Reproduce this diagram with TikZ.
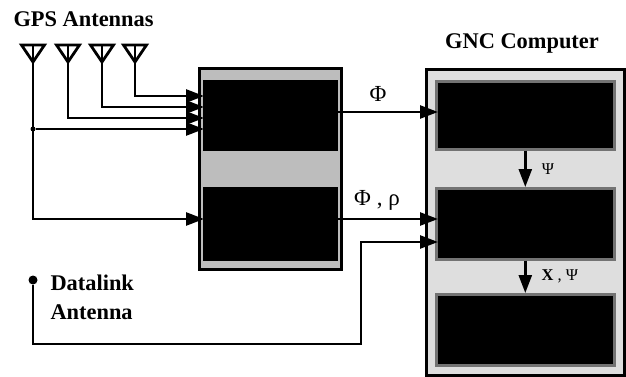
\documentclass[tikz,border=0pt]{standalone}
\usepackage{fontspec}
\setmainfont{Liberation Serif}
\usetikzlibrary{positioning,arrows.meta,shapes.geometric}
\definecolor{rcvgray}{gray}{0.74}
\definecolor{cpugray}{gray}{0.87}
\definecolor{edgegray}{gray}{0.45}
\begin{document}
\begin{tikzpicture}[
x=1pt, y=-1pt,
antenna/.style={draw, line width=2.8pt, line join=miter, isosceles triangle, isosceles triangle stretches=true, shape border rotate=270, minimum width=23pt, minimum height=17pt, inner sep=0pt, outer sep=0pt},
frame/.style={draw, line width=2.6pt, minimum width=#1, anchor=north west, inner sep=0pt},
frame/.default=142pt,
rcvbox/.style={fill=black, draw=rcvgray, line width=0.6pt, minimum width=136pt, anchor=north west, inner sep=0pt},
cpubox/.style={fill=black, draw=edgegray, line width=2.6pt, minimum width=178pt, anchor=north west, inner sep=0pt},
link/.style={line width=2.6pt},
arrow/.style={-{Triangle[length=18pt, width=13pt]}, line width=2.6pt},
dot/.style={circle, fill=black, inner sep=0pt, minimum size=#1},
title/.style={font=\fontsize{22.4}{24}\selectfont\bfseries},
signal/.style={font=\fontsize{23}{25}\selectfont},
smallsig/.style={font=\fontsize{16.5}{18}\selectfont}
]
\useasboundingbox (0,0) rectangle (626,377);
% receiver and computer frames
\node[frame, fill=rcvgray, minimum height=201pt] (rcv) at (198,67) {};
\node[frame=198pt, fill=cpugray, minimum height=306pt] (gnc) at (425,68) {};
\node[rcvbox, minimum height=72pt] (rcvA) at (202,79) {};
\node[rcvbox, minimum height=75pt] (rcvB) at (202,186) {};
\node[cpubox, minimum height=68pt] (cpuA) at (435,80) {};
\node[cpubox, minimum height=71pt] (cpuB) at (435,187) {};
\node[cpubox, minimum height=71pt] (cpuC) at (435,293) {};
% antennas
\node[antenna, anchor=apex] (ant1) at (33,62) {};
\node[antenna, anchor=apex] (ant2) at (68,62) {};
\node[antenna, anchor=apex] (ant3) at (102,62) {};
\node[antenna, anchor=apex] (ant4) at (135,62) {};
\node[dot=9pt] (dlink) at (33,280) {};
\node[dot=5pt] (tap) at (33,129) {};
% free ends
\coordinate (inA) at (204,96);
\coordinate (inB) at (204,107);
\coordinate (inC) at (204,118);
\coordinate (inD) at (204,129);
\coordinate (inE) at (204,219);
\coordinate (phiA) at (338,112);
\coordinate (phiB) at (438,112);
\coordinate (rhoA) at (338,219);
\coordinate (rhoB) at (438,219);
\coordinate (dlinkB) at (438,242);
\coordinate (dlinkC) at (33,344);
\coordinate (dlinkD) at (361,344);
% connectors
\draw[link] (ant1.apex |- ant1.left corner) -- (ant1.apex);
\draw[link] (ant2.apex |- ant2.left corner) -- (ant2.apex);
\draw[link] (ant3.apex |- ant3.left corner) -- (ant3.apex);
\draw[link] (ant4.apex |- ant4.left corner) -- (ant4.apex);
\draw[arrow] (ant4.apex) |- (inA);
\draw[arrow] (ant3.apex) |- (inB);
\draw[arrow] (ant2.apex) |- (inC);
\draw[arrow] (tap) -- (inD);
\draw[arrow] (ant1.apex) |- (inE);
\draw[arrow] (phiA) -- (phiB);
\draw[arrow] (rhoA) -- (rhoB);
\draw[arrow] (dlink) -- (dlinkC) -- (dlinkD) |- (dlinkB);
\draw[arrow] (cpuA.south) -- (cpuB.north);
\draw[arrow] (cpuB.south) -- (cpuC.north);
% labels
\node[title, anchor=west] (gpslab) at (10,19) {GPS Antennas};
\node[title] (gnclab) at (522,43) {GNC Computer};
\node[title, anchor=west, align=left] (dlab) at (47,283) {Datalink};
\node[title, anchor=west, align=left] (alab) at (47,312) {Antenna};
\node[signal] (philab) at (378,94) {Φ};
\node[signal] (rholab) at (377,200) {Φ , ρ};
\node[smallsig] (psilab) at (548,169) {Ψ};
\node[smallsig, anchor=west] (xlab) at (538,276) {\textbf{X} , Ψ};
\end{tikzpicture}
\end{document}
